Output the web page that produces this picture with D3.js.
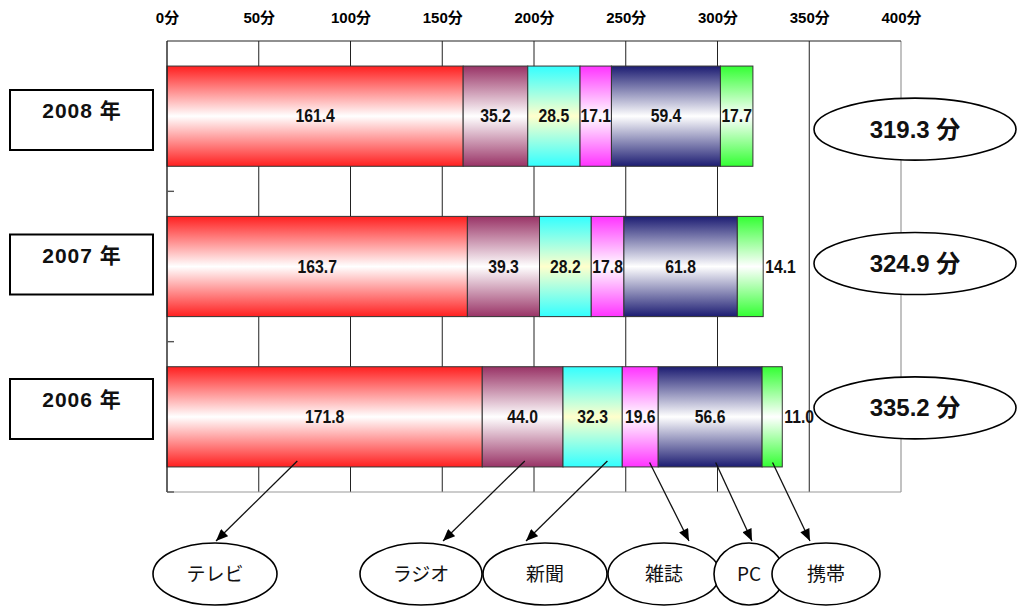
<!DOCTYPE html>
<html>
<head>
<meta charset="utf-8">
<script src="https://cdn.jsdelivr.net/npm/d3@7"></script>
<style>
  html, body { margin: 0; padding: 0; background: #fff; }
  svg { display: block; font-family: "Liberation Sans", Arial, "Noto Sans CJK JP", sans-serif; }
</style>
</head>
<body>
<svg id="chart" width="1019" height="606"></svg>
<script>
// Daily media contact time (minutes) by year
const years  = ["2008 年", "2007 年", "2006 年"];
const media  = ["テレビ", "ラジオ", "新聞", "雑誌", "PC", "携帯"];
const tv       = [161.4, 163.7, 171.8];
const radio    = [35.2, 39.3, 44.0];
const paper    = [28.5, 28.2, 32.3];
const magazine = [17.1, 17.8, 19.6];
const pc       = [59.4, 61.8, 56.6];
const mobile   = [17.7, 14.1, 11.0];
const totals   = [319.3, 324.9, 335.2];
const tickValues = [0, 50, 100, 150, 200, 250, 300, 350, 400];

// Segment colours: edge colour fading to a light centre
const edgeColors   = ["#ff1f1f", "#993366", "#33ffff", "#ff33ff", "#1c1c72", "#33ff33"];
const centerColors = ["#ffffff", "#ffffff", "#ffffcc", "#ffffff", "#ffffff", "#ffffff"];

// Callout layout for the media name bubbles under the chart
const calloutAnchor = [71, 195, 240, 263, 299, 330];   // minutes along the 2006 bar
const calloutTipX   = [216, 443, 526, 689, 752, 810];
const bubbleCx      = [215, 421, 545, 664, 749, 826];
const bubbleRx      = [62, 61, 62, 56, 35, 54];

const series = [tv, radio, paper, magazine, pc, mobile];

const svg = d3.select("#chart");
const defs = svg.append("defs");

const x = d3.scaleLinear().domain([0, 400]).range([167, 901]);
const y = d3.scaleBand().domain(years).range([41, 492]).paddingInner(1 / 3).paddingOuter(1 / 6);

// vertical gradients for each medium
edgeColors.forEach((c, i) => {
  const g = defs.append("linearGradient").attr("id", "grad" + i)
    .attr("x1", 0).attr("y1", 0).attr("x2", 0).attr("y2", 1);
  g.append("stop").attr("offset", "0%").attr("stop-color", c);
  g.append("stop").attr("offset", "50%").attr("stop-color", centerColors[i]);
  g.append("stop").attr("offset", "100%").attr("stop-color", c);
});

defs.append("marker").attr("id", "arrow")
  .attr("viewBox", "0 0 12 10").attr("refX", 12).attr("refY", 5)
  .attr("markerWidth", 13).attr("markerHeight", 10)
  .attr("markerUnits", "userSpaceOnUse").attr("orient", "auto")
  .append("path").attr("d", "M0,0 L12,5 L0,10 Z").attr("fill", "#000");

// plot frame and vertical gridlines
const [plotTop, plotBottom] = y.range();
svg.append("g").selectAll("line").data(tickValues.slice(1, -1)).join("line")
  .attr("x1", d => x(d)).attr("x2", d => x(d))
  .attr("y1", plotTop).attr("y2", plotBottom)
  .attr("stroke", "#222").attr("stroke-width", 1);
svg.append("line").attr("x1", x(400)).attr("x2", x(400)).attr("y1", plotTop).attr("y2", plotBottom)
  .attr("stroke", "#999").attr("stroke-width", 1.2);
svg.append("line").attr("x1", x(0)).attr("x2", x(400)).attr("y1", plotBottom).attr("y2", plotBottom)
  .attr("stroke", "#999").attr("stroke-width", 1.2);
svg.append("line").attr("x1", x(0)).attr("x2", x(400)).attr("y1", plotTop).attr("y2", plotTop)
  .attr("stroke", "#222").attr("stroke-width", 1.2);

// top axis labels
const axisTop = svg.append("g").attr("transform", `translate(0,${plotTop})`)
  .call(d3.axisTop(x).tickValues(tickValues).tickSize(0).tickPadding(18).tickFormat(d => d + "分"));
axisTop.select(".domain").remove();
axisTop.selectAll("text").attr("font-size", 15).attr("font-weight", "bold")
  .attr("fill", "#000").attr("font-family", "'Liberation Sans', 'Noto Sans CJK JP', sans-serif");

// stacked segments
const rows = years.map((yr, r) => {
  let acc = 0;
  return series.map((s, i) => {
    const seg = { year: yr, row: r, idx: i, v: s[r], x0: acc, x1: acc + s[r] };
    acc += s[r];
    return seg;
  });
});
const segs = rows.flat();

svg.append("g").selectAll("rect").data(segs).join("rect")
  .attr("x", d => x(d.x0)).attr("width", d => x(d.x1) - x(d.x0))
  .attr("y", d => y(d.year)).attr("height", y.bandwidth())
  .attr("fill", d => `url(#grad${d.idx})`)
  .attr("stroke", "#333").attr("stroke-width", 1);

// left axis with ticks between bars
svg.append("line").attr("x1", x(0)).attr("x2", x(0)).attr("y1", plotTop).attr("y2", plotBottom)
  .attr("stroke", "#222").attr("stroke-width", 1.4);
const boundaries = years.slice(0, -1).map(d => y(d) + y.bandwidth() + y.step() * y.paddingInner() / 2);
boundaries.push(plotBottom);
svg.append("g").selectAll("line").data(boundaries).join("line")
  .attr("x1", x(0)).attr("x2", x(0) + 7).attr("y1", d => d).attr("y2", d => d)
  .attr("stroke", "#555").attr("stroke-width", 1.4);

// value labels (slightly condensed)
const narrow = d => (x(d.x1) - x(d.x0)) < 28;
svg.append("g").selectAll("text").data(segs).join("text")
  .attr("transform", d => {
    const cx = narrow(d) ? x(d.x1) + 2 : (x(d.x0) + x(d.x1)) / 2;
    return `translate(${cx},${y(d.year) + y.bandwidth() / 2}) scale(0.9,1)`;
  })
  .attr("text-anchor", d => narrow(d) ? "start" : "middle")
  .attr("dy", "0.36em")
  .attr("font-size", 17.5).attr("font-weight", "bold").attr("fill", "#111")
  .text(d => d.v.toFixed(1));

// year boxes
const yearG = svg.append("g").selectAll("g").data(years).join("g")
  .attr("transform", (d, i) => `translate(10,${90 + i * 144.5})`);
yearG.append("rect").attr("width", 143).attr("height", 60)
  .attr("fill", "#fff").attr("stroke", "#000").attr("stroke-width", 2);
yearG.append("text").attr("x", 72).attr("y", 28).attr("text-anchor", "middle")
  .attr("font-size", 21).attr("font-weight", "bold").attr("fill", "#111")
  .attr("letter-spacing", 1)
  .text(d => d);

// total bubbles
const totG = svg.append("g").selectAll("g").data(totals).join("g")
  .attr("transform", (d, i) => `translate(915,${y(years[i]) + y.bandwidth() / 2 + [13, -3, -9][i]})`);
totG.append("ellipse").attr("rx", 101).attr("ry", 31)
  .attr("fill", "#fff").attr("stroke", "#000").attr("stroke-width", 1.6);
totG.append("text").attr("text-anchor", "middle").attr("dy", "0.36em")
  .attr("font-size", 24).attr("font-weight", "bold").attr("fill", "#111")
  .text(d => d.toFixed(1) + " 分");

// media callouts
const lastRow = years.length - 1;
const arrowY0 = y(years[lastRow]) + y.bandwidth() - 6;
svg.append("g").selectAll("line").data(media).join("line")
  .attr("x1", (d, i) => x(calloutAnchor[i])).attr("y1", (d, i) => arrowY0 + (i >= 3 ? 1.5 : 0))
  .attr("x2", (d, i) => calloutTipX[i]).attr("y2", 541)
  .attr("stroke", "#111").attr("stroke-width", 1.3)
  .attr("marker-end", "url(#arrow)");

const bub = svg.append("g").selectAll("g").data(media).join("g")
  .attr("transform", (d, i) => `translate(${bubbleCx[i]},574)`);
bub.append("ellipse").attr("rx", (d, i) => bubbleRx[i]).attr("ry", 31)
  .attr("fill", "#fff").attr("stroke", "#000").attr("stroke-width", 1.6);
bub.append("text").attr("text-anchor", "middle").attr("dy", "0.36em")
  .attr("font-size", 19).attr("fill", "#111")
  .attr("font-family", "'Noto Sans CJK JP', 'Liberation Sans', sans-serif")
  .text(d => d);
</script>
</body>
</html>
